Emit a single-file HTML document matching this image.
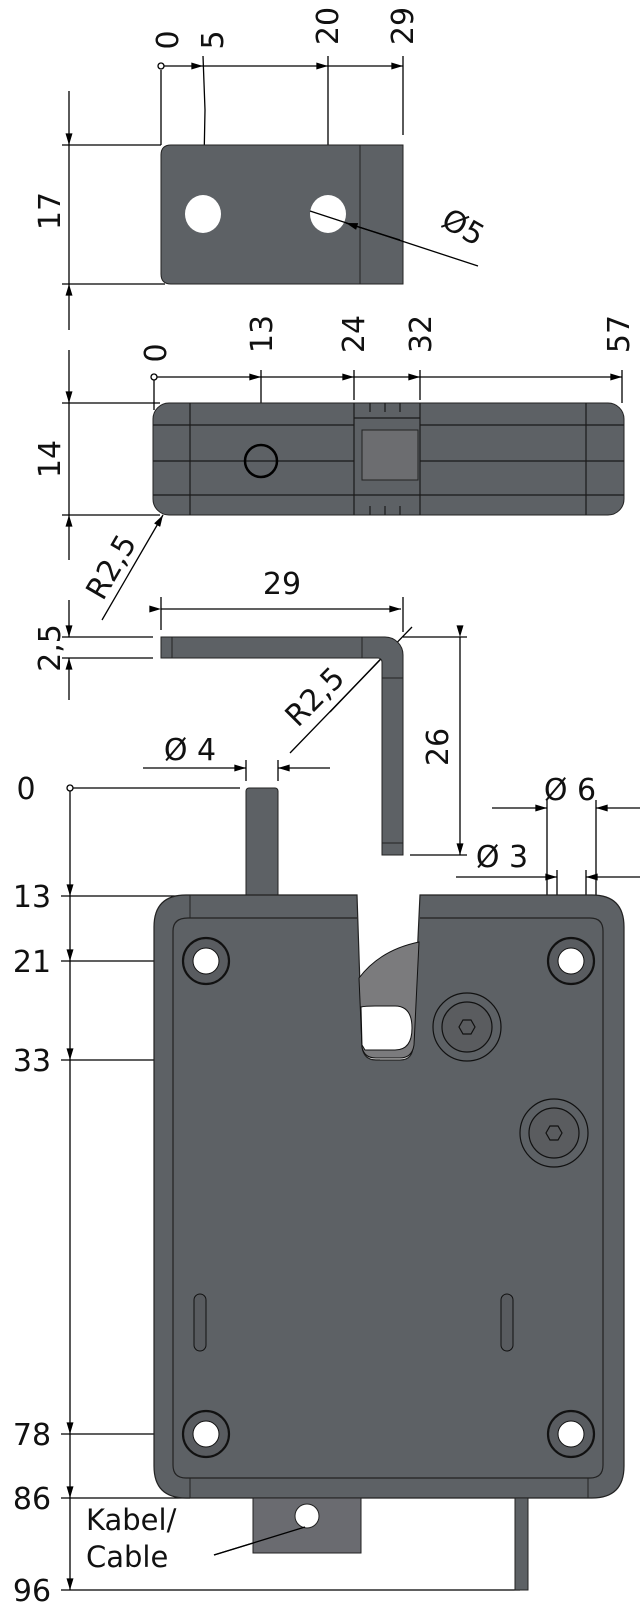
<!DOCTYPE html>
<html><head><meta charset="utf-8"><style>
html,body{margin:0;padding:0;background:#fff}
svg{display:block}
text{font-family:"DejaVu Sans","Liberation Sans",sans-serif;fill:#111}
</style></head><body>
<svg width="640" height="1616" viewBox="0 0 640 1616" xmlns="http://www.w3.org/2000/svg">
<defs>
<marker id="a" viewBox="0 0 10 6" refX="10" refY="3" markerWidth="14" markerHeight="7" markerUnits="userSpaceOnUse" orient="auto"><path d="M0,0L10,3L0,6z" fill="#000"/></marker>
</defs>
<g stroke="#000" stroke-width="1.3" fill="none">
<!-- top plate dims -->
<circle cx="161" cy="66" r="3"/>
<line x1="164" y1="66" x2="203" y2="66" marker-end="url(#a)"/>
<line x1="203" y1="66" x2="328" y2="66" marker-end="url(#a)"/>
<line x1="328" y1="66" x2="403" y2="66" marker-end="url(#a)"/>
<line x1="161" y1="70" x2="161" y2="145"/>
<path d="M203 56 L205 110 L203 214"/>
<line x1="328" y1="56" x2="328" y2="214"/>
<line x1="403" y1="56" x2="403" y2="135"/>
<line x1="69" y1="91" x2="69" y2="145" marker-end="url(#a)"/>
<line x1="69" y1="330" x2="69" y2="284" marker-end="url(#a)"/>
<line x1="62" y1="145" x2="161" y2="145"/>
<line x1="62" y1="284" x2="165" y2="284"/>
<line x1="69" y1="145" x2="69" y2="284"/>
<!-- plate 2 dims -->
<circle cx="154" cy="377" r="3"/>
<line x1="157" y1="377" x2="261" y2="377" marker-end="url(#a)"/>
<line x1="261" y1="377" x2="354" y2="377" marker-end="url(#a)"/>
<line x1="354" y1="377" x2="420" y2="377" marker-end="url(#a)"/>
<line x1="420" y1="377" x2="622" y2="377" marker-end="url(#a)"/>
<line x1="154" y1="380" x2="154" y2="410"/>
<line x1="261" y1="370" x2="261" y2="461"/>
<line x1="354" y1="370" x2="354" y2="400"/>
<line x1="420" y1="370" x2="420" y2="400"/>
<line x1="622" y1="370" x2="622" y2="403"/>
<line x1="69" y1="350" x2="69" y2="403" marker-end="url(#a)"/>
<line x1="69" y1="560" x2="69" y2="515" marker-end="url(#a)"/>
<line x1="69" y1="403" x2="69" y2="515"/>
<line x1="62" y1="403" x2="160" y2="403"/>
<line x1="62" y1="515" x2="160" y2="515"/>
<line x1="102" y1="620" x2="163" y2="515" marker-end="url(#a)"/>
<!-- bracket dims -->
<line x1="161" y1="609" x2="401" y2="609" marker-start="url(#a)" marker-end="url(#a)"/>
<line x1="161" y1="597" x2="161" y2="630"/>
<line x1="403" y1="597" x2="403" y2="632"/>
<line x1="62" y1="637" x2="153" y2="637"/>
<line x1="62" y1="658" x2="153" y2="658"/>
<line x1="69" y1="600" x2="69" y2="637" marker-end="url(#a)"/>
<line x1="69" y1="700" x2="69" y2="658" marker-end="url(#a)"/>
<line x1="403" y1="637" x2="467" y2="637"/>
<line x1="410" y1="855" x2="467" y2="855"/>
<line x1="460" y1="637" x2="460" y2="855" marker-start="url(#a)" marker-end="url(#a)"/>
<line x1="290" y1="753" x2="412" y2="627" />
<line x1="330" y1="712" x2="395" y2="644" marker-end="url(#a)"/>
<!-- Ø4 -->
<line x1="143" y1="768" x2="246" y2="768" marker-end="url(#a)"/>
<line x1="330" y1="768" x2="278" y2="768" marker-end="url(#a)"/>
<line x1="246" y1="760" x2="246" y2="781"/>
<line x1="278" y1="760" x2="278" y2="781"/>
<!-- Ø6 Ø3 -->
<line x1="492" y1="808" x2="547" y2="808" marker-end="url(#a)"/>
<line x1="640" y1="808" x2="596" y2="808" marker-end="url(#a)"/>
<line x1="456" y1="877" x2="557" y2="877" marker-end="url(#a)"/>
<line x1="640" y1="877" x2="586" y2="877" marker-end="url(#a)"/>
<line x1="547" y1="800" x2="547" y2="962"/>
<line x1="596" y1="800" x2="596" y2="962"/>
<line x1="557" y1="870" x2="557" y2="955"/>
<line x1="586" y1="870" x2="586" y2="955"/>
<!-- main vertical dims -->
<circle cx="70" cy="788" r="3"/>
<line x1="73" y1="788" x2="240" y2="788"/>
<line x1="70" y1="791" x2="70" y2="896" marker-end="url(#a)"/>
<line x1="70" y1="896" x2="70" y2="961" marker-end="url(#a)"/>
<line x1="70" y1="961" x2="70" y2="1060" marker-end="url(#a)"/>
<line x1="70" y1="1060" x2="70" y2="1434" marker-end="url(#a)"/>
<line x1="70" y1="1434" x2="70" y2="1498" marker-end="url(#a)"/>
<line x1="70" y1="1498" x2="70" y2="1590" marker-end="url(#a)"/>
<line x1="61" y1="896" x2="190" y2="896"/>
<line x1="61" y1="961" x2="206" y2="961"/>
<line x1="61" y1="1060" x2="380" y2="1060"/>
<line x1="61" y1="1434" x2="206" y2="1434"/>
<line x1="61" y1="1498" x2="190" y2="1498"/>
<line x1="61" y1="1590" x2="520" y2="1590"/>
<line x1="214" y1="1555" x2="305" y2="1527" marker-end="url(#a)"/>
</g>

<!-- top plate -->
<path d="M171 145 H403 V284 H171 Q161 284 161 274 V155 Q161 145 171 145Z" fill="#5d6165" stroke="#222" stroke-width="1"/>
<line x1="360" y1="145" x2="360" y2="284" stroke="#222"/>
<ellipse cx="203" cy="214" rx="18" ry="19" fill="#fff"/>
<ellipse cx="328" cy="214" rx="18" ry="19" fill="#fff"/>
<line x1="310" y1="211" x2="478" y2="266" stroke="#000" stroke-width="1.3"/>
<line x1="400" y1="240" x2="346" y2="223" stroke="#000" stroke-width="1.3" marker-end="url(#a)"/>

<!-- plate 2 -->
<rect x="153" y="403" width="471" height="112" rx="16" fill="#5d6165" stroke="#222"/>
<g stroke="#1a1a1a" stroke-width="1.2">
<line x1="190" y1="403" x2="190" y2="515"/>
<line x1="586" y1="403" x2="586" y2="515"/>
<line x1="354" y1="403" x2="354" y2="515"/>
<line x1="420" y1="403" x2="420" y2="515"/>
<line x1="153" y1="425" x2="354" y2="425"/><line x1="420" y1="425" x2="624" y2="425"/>
<line x1="153" y1="461" x2="354" y2="461"/><line x1="420" y1="461" x2="624" y2="461"/>
<line x1="153" y1="495" x2="354" y2="495"/><line x1="420" y1="495" x2="624" y2="495"/>
<line x1="354" y1="418" x2="420" y2="418"/><line x1="354" y1="495" x2="420" y2="495"/>
<line x1="370" y1="403" x2="370" y2="412"/><line x1="385" y1="403" x2="385" y2="412"/><line x1="400" y1="403" x2="400" y2="412"/>
<line x1="370" y1="506" x2="370" y2="515"/><line x1="385" y1="506" x2="385" y2="515"/><line x1="400" y1="506" x2="400" y2="515"/>
</g>
<rect x="362" y="430" width="56" height="50" fill="#6c6d70" stroke="#222"/>
<circle cx="261" cy="461" r="16" fill="none" stroke="#000" stroke-width="2.5"/>

<!-- bracket -->
<path d="M161 637 H385 A18 18 0 0 1 403 655 V855 H382 V662 A4 4 0 0 0 378 658 H161Z" fill="#5d6165" stroke="#222"/>
<line x1="172" y1="637" x2="172" y2="658" stroke="#222"/>
<line x1="362" y1="637" x2="362" y2="658" stroke="#222"/>
<line x1="382" y1="678" x2="403" y2="678" stroke="#222"/>
<line x1="382" y1="843" x2="403" y2="843" stroke="#222"/>

<!-- pin -->
<rect x="246" y="788" width="32" height="110" rx="3" fill="#5d6165" stroke="#222"/>

<!-- main body -->
<path d="M186 895 H357 L362 1047 Q364 1060 376 1060 H400 Q413 1060 413 1045 L420 895 H592 Q624 895 624 927 V1466 Q624 1498 592 1498 H186 Q154 1498 154 1466 V927 Q154 895 186 895Z" fill="#5d6165" stroke="#222" stroke-width="1.2"/>
<path d="M188 918 H357 M420 918 H590 Q603 918 603 931 V1465 Q603 1478 590 1478 H186 Q173 1478 173 1465 V931 Q173 918 188 918" fill="none" stroke="#222" stroke-width="1.2"/>
<line x1="190" y1="895" x2="190" y2="918" stroke="#222"/>
<line x1="190" y1="1478" x2="190" y2="1498" stroke="#222"/>
<line x1="588" y1="1478" x2="588" y2="1498" stroke="#222"/>
<!-- cam -->
<path d="M359 978 Q380 950 419 942 L414 1045 Q412 1058 400 1058 H376 Q364 1058 362 1047Z" fill="#7b7b7d" stroke="#111"/>
<path d="M361 1007 Q365 1006 375 1006 H395 Q412 1006 412 1028 Q412 1050 395 1050 H365 L362 1045Z" fill="#fff" stroke="#111"/>
<!-- holes -->
<g stroke="#111" stroke-width="2.2">
<circle cx="206" cy="961" r="23" fill="#595c60"/><circle cx="206" cy="961" r="13" fill="#fff" stroke-width="1"/>
<circle cx="571" cy="961" r="23" fill="#595c60"/><circle cx="571" cy="961" r="13" fill="#fff" stroke-width="1"/>
<circle cx="206" cy="1434" r="23" fill="#595c60"/><circle cx="206" cy="1434" r="13" fill="#fff" stroke-width="1"/>
<circle cx="571" cy="1434" r="23" fill="#595c60"/><circle cx="571" cy="1434" r="13" fill="#fff" stroke-width="1"/>
</g>
<!-- screws -->
<g stroke="#111" stroke-width="1.2">
<circle cx="467" cy="1027" r="34" fill="#5d6165"/><circle cx="467" cy="1027" r="25" fill="#5a5c5f"/>
<polygon points="475,1027 471,1034 463,1034 459,1027 463,1020 471,1020" fill="none"/>
<circle cx="554" cy="1133" r="34" fill="#5d6165"/><circle cx="554" cy="1133" r="25" fill="#5a5c5f"/>
<polygon points="562,1133 558,1140 550,1140 546,1133 550,1126 558,1126" fill="none"/>
</g>
<rect x="194" y="1294" width="12" height="57" rx="6" fill="#585b5f" stroke="#111"/>
<rect x="501" y="1294" width="12" height="57" rx="6" fill="#585b5f" stroke="#111"/>
<!-- tab & wire -->
<rect x="253" y="1498" width="108" height="55" fill="#6a6b70" stroke="#222"/>
<circle cx="307" cy="1516" r="12" fill="#fff" stroke="#222"/>
<rect x="515" y="1498" width="13" height="92" fill="#5d6165" stroke="#222"/>
<line x1="214" y1="1555" x2="305" y2="1527" stroke="#000" stroke-width="1.3"/>

<!-- labels -->
<g font-size="30">
<text transform="translate(178,40) rotate(-90)" text-anchor="middle">0</text>
<text transform="translate(223,40) rotate(-90)" text-anchor="middle">5</text>
<text transform="translate(338,26) rotate(-90)" text-anchor="middle">20</text>
<text transform="translate(413,26) rotate(-90)" text-anchor="middle">29</text>
<text transform="translate(60,211) rotate(-90)" text-anchor="middle">17</text>
<text transform="translate(458,236) rotate(30)" text-anchor="middle">Ø5</text>
<text transform="translate(166,353) rotate(-90)" text-anchor="middle">0</text>
<text transform="translate(272,334) rotate(-90)" text-anchor="middle">13</text>
<text transform="translate(364,334) rotate(-90)" text-anchor="middle">24</text>
<text transform="translate(431,334) rotate(-90)" text-anchor="middle">32</text>
<text transform="translate(629,334) rotate(-90)" text-anchor="middle">57</text>
<text transform="translate(60,459) rotate(-90)" text-anchor="middle">14</text>
<text transform="translate(120,572) rotate(-60)" text-anchor="middle">R2,5</text>
<text x="282" y="594" text-anchor="middle">29</text>
<text transform="translate(60,648) rotate(-90)" text-anchor="middle">2,5</text>
<text transform="translate(448,747) rotate(-90)" text-anchor="middle">26</text>
<text transform="translate(322,704) rotate(-45)" text-anchor="middle">R2,5</text>
<text x="190" y="760" text-anchor="middle">Ø 4</text>
<text x="570" y="800" text-anchor="middle">Ø 6</text>
<text x="502" y="867" text-anchor="middle">Ø 3</text>
<text x="26" y="799" text-anchor="middle">0</text>
<text x="32" y="907" text-anchor="middle">13</text>
<text x="32" y="972" text-anchor="middle">21</text>
<text x="32" y="1071" text-anchor="middle">33</text>
<text x="32" y="1445" text-anchor="middle">78</text>
<text x="32" y="1509" text-anchor="middle">86</text>
<text x="32" y="1601" text-anchor="middle">96</text>
<text x="86" y="1530" font-size="29">Kabel/</text>
<text x="86" y="1567" font-size="29">Cable</text>
</g>
</svg>
</body></html>
